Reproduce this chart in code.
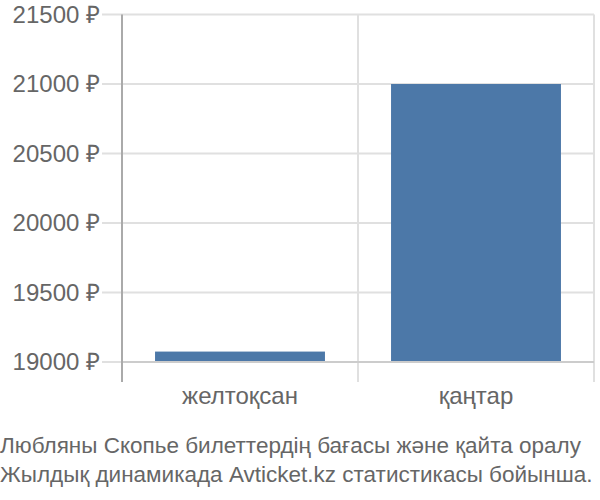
<!DOCTYPE html>
<html>
<head>
<meta charset="utf-8">
<script src="https://cdn.jsdelivr.net/npm/d3@7"></script>
<style>
  body { margin: 0; background: #fff; }
  text { font-family: "Liberation Sans", Arial, sans-serif; fill: #666; }
</style>
</head>
<body>
<div id="chart"></div>
<script>
const months = ["желтоқсан", "қаңтар"];
const prices = [19075, 21000];
const yTicks = [19000, 19500, 20000, 20500, 21000, 21500];
const caption = [
  "Любляны Скопье билеттердің бағасы және қайта оралу",
  "Жылдық динамикада Avticket.kz статистикасы бойынша."
];

const width = 600;
const height = 500;
const margin = { top: 14.5, left: 122, right: 6, bottom: 138 };

const svg = d3
  .select("#chart")
  .append("svg")
  .attr("width", width)
  .attr("height", height);

const xScale = d3
  .scaleBand()
  .domain(months)
  .range([margin.left, width - margin.right])
  .paddingInner(0.28)
  .paddingOuter(0.14);

const yScale = d3
  .scaleLinear()
  .domain([19000, 21500])
  .range([height - margin.bottom, margin.top]);

const plotBottom = height - margin.bottom;

// Grid

svg
  .selectAll(".hgrid")
  .data(yTicks)
  .enter()
  .append("line")
  .attr("x1", margin.left - 20)
  .attr("x2", width - margin.right)
  .attr("y1", (d) => yScale(d))
  .attr("y2", (d) => yScale(d))
  .style("stroke", "#e0e0e0")
  .style("stroke-width", 2);

const step = xScale.step();
svg
  .selectAll(".vgrid")
  .data(months)
  .enter()
  .append("line")
  .attr("x1", (d) => xScale(d) - xScale.paddingOuter() * step + step)
  .attr("x2", (d) => xScale(d) - xScale.paddingOuter() * step + step)
  .attr("y1", margin.top)
  .attr("y2", plotBottom + 20)
  .style("stroke", "#e0e0e0")
  .style("stroke-width", 2);

// Bars

svg
  .selectAll(".bar")
  .data(prices)
  .enter()
  .append("rect")
  .attr("x", (d, i) => xScale(months[i]))
  .attr("width", xScale.bandwidth())
  .attr("y", (d) => yScale(d))
  .attr("height", (d) => plotBottom - yScale(d))
  .style("fill", "#4c78a8");

// Baseline and axis

svg
  .append("line")
  .attr("x1", margin.left)
  .attr("x2", width - margin.right)
  .attr("y1", plotBottom)
  .attr("y2", plotBottom)
  .style("stroke", "#cccccc")
  .style("stroke-width", 2);

svg
  .append("line")
  .attr("x1", margin.left)
  .attr("x2", margin.left)
  .attr("y1", margin.top)
  .attr("y2", plotBottom + 20)
  .style("stroke", "#aaaaaa")
  .style("stroke-width", 2);

// Labels

svg
  .selectAll(".ylabel")
  .data(yTicks)
  .enter()
  .append("text")
  .attr("x", 100)
  .attr("y", (d) => yScale(d))
  .attr("dy", "0.35em")
  .attr("text-anchor", "end")
  .style("font-size", "24px")
  .text((d) => d + " ₽");

svg
  .selectAll(".xlabel")
  .data(months)
  .enter()
  .append("text")
  .attr("x", (d) => xScale(d) + xScale.bandwidth() / 2)
  .attr("y", 404)
  .attr("text-anchor", "middle")
  .style("font-size", "24px")
  .text((d) => d);

svg
  .selectAll(".caption")
  .data(caption)
  .enter()
  .append("text")
  .attr("x", 0)
  .attr("y", (d, i) => 453 + i * 29)
  .style("font-size", "22.5px")
  .text((d) => d);
</script>
</body>
</html>
